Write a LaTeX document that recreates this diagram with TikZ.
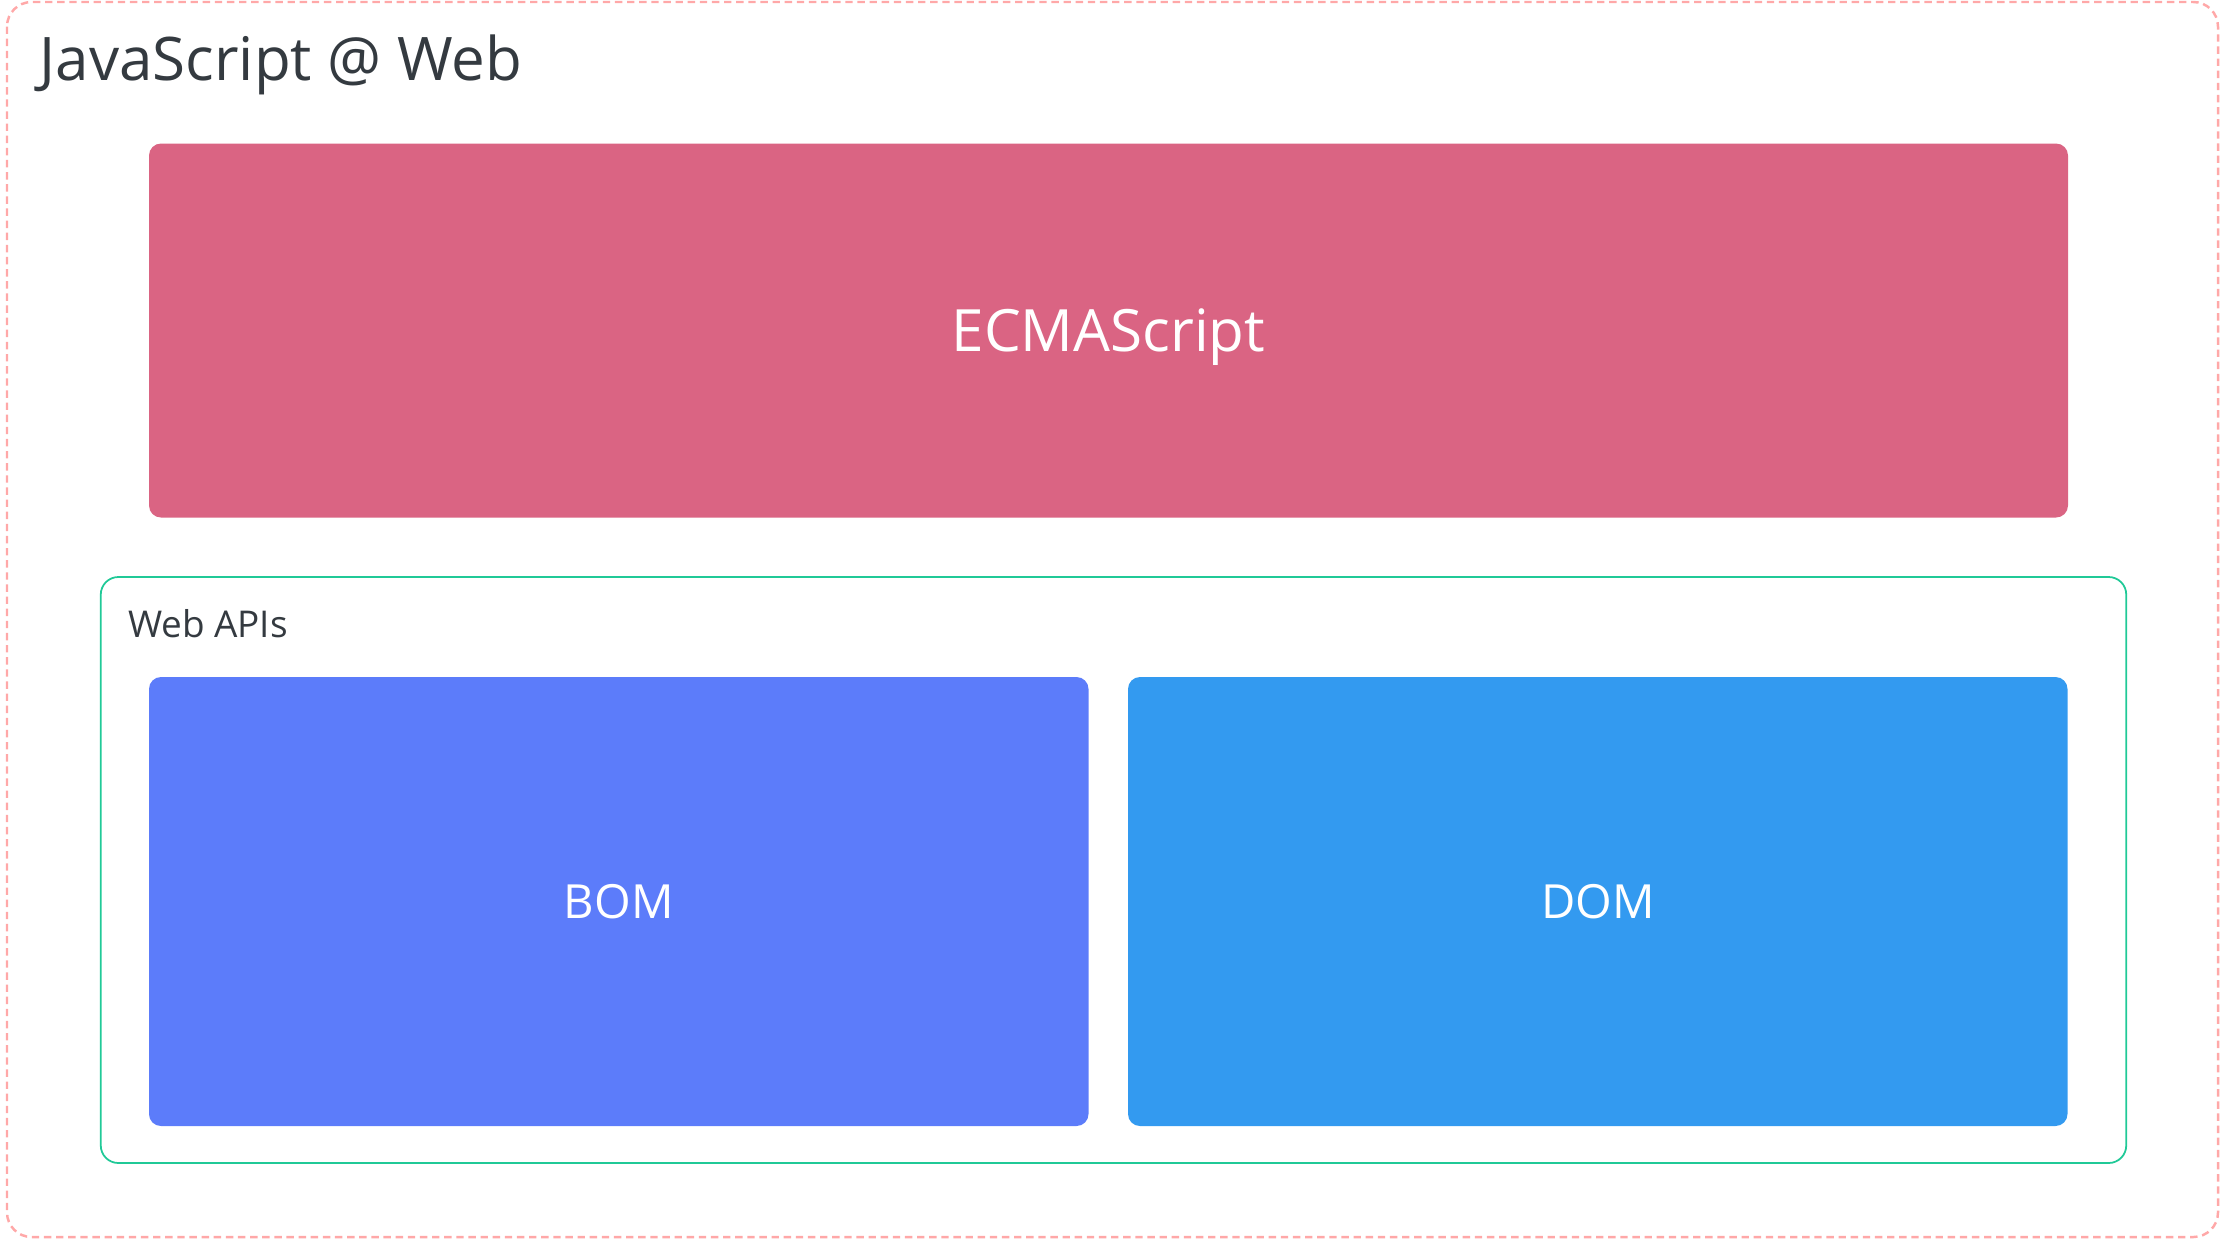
\documentclass[tikz,border=0pt]{standalone}
\usepackage{fontspec}
\setmainfont{Open Sans}
\usepackage{tikz}

\definecolor{ecmapink}{HTML}{DA6483}
\definecolor{bomblue}{HTML}{5C7CFA}
\definecolor{domblue}{HTML}{339AF0}
\definecolor{apigreen}{HTML}{20C997}
\definecolor{framered}{HTML}{FFA8A8}
\definecolor{textgray}{HTML}{343A40}

\begin{document}
\begin{tikzpicture}[x=0.1mm, y=-0.1mm,
                    layer/.style={rounded corners=3.4pt, inner sep=0pt, text=white, text depth=0pt}]
              \useasboundingbox (0, 0) rectangle (2220, 1239);
              \newcommand{\layerbox}[7]
              {%
                \node[layer, fill=#3, minimum width=#4, minimum height=#5, text height=#6,
                      font=\fontsize{#7}{#7}\selectfont] (#1) at #2 {#1};
              }%
              \draw[framered, line width=0.7pt, dash pattern=on 2.1pt off 1.35pt, rounded corners=7pt]
                (7, 2) rectangle (2218, 1237);
              \node[anchor=base west, inner sep=0pt, text=textgray, font=\fontsize{17.1}{21}\selectfont]
                (title) at (39, 80) {JavaScript @ Web};
              \layerbox{ECMAScript}{(1108.5, 330.5)}{ecmapink}{191.9mm}{37.4mm}{4.18mm}{16.6}
              \node[draw=apigreen, line width=0.5pt, rounded corners=5pt, minimum width=202.55mm,
                    minimum height=58.6mm, inner sep=0pt] (apis) at (1113.5, 870) {};
              \node[anchor=base west, inner sep=0pt, text=textgray, font=\fontsize{10.5}{13}\selectfont]
                (apislabel) at ([shift={(27.5, 61)}]apis.north west) {Web APIs};
              \layerbox{BOM}{(618.75, 901.5)}{bomblue}{93.95mm}{44.9mm}{3.38mm}{13.4}
              \layerbox{DOM}{(1597.75, 901.5)}{domblue}{93.95mm}{44.9mm}{3.38mm}{13.4}
            \end{tikzpicture}
\end{document}
